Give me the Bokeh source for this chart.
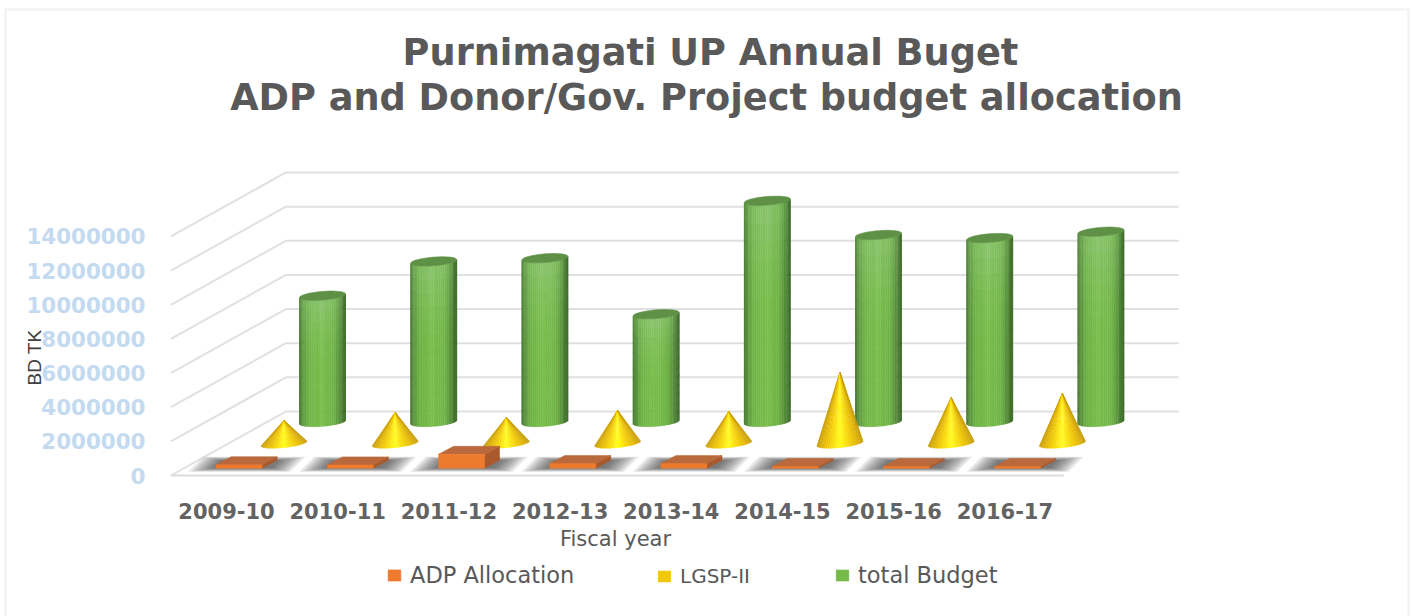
import math
from bokeh.plotting import figure
from bokeh.models import (Range1d, FixedTicker, NumeralTickFormatter, Label, Legend, LegendItem, BoxAnnotation)
from bokeh.embed import file_html
from bokeh.resources import INLINE

CATEGORIES = ["2009-10", "2010-11", "2011-12", "2012-13", "2013-14", "2014-15", "2015-16", "2016-17"]
ADP = [210000, 200000, 820000, 280000, 280000, 110000, 110000, 110000]
LGSP = [1350000, 1820000, 1520000, 1930000, 1870000, 4160000, 2690000, 2930000]
TOTAL = [7400000, 9410000, 9600000, 6320000, 12960000, 10960000, 10780000, 11150000]
Y_TICKS = [0, 2000000, 4000000, 6000000, 8000000, 10000000, 12000000, 14000000]

# projection: one category = 111.2 px, one px = 58577 value units
PX_CAT = 111.2
VAL_PX = 58577.0
CAT0_PX, ZERO_PX = 226.0, 475.0
WIDTH, HEIGHT = 1411, 616
DX, DY = 115 / PX_CAT, 64 * VAL_PX          # depth of the 3-D box
D_ADP, D_LGSP, D_TOTAL = 0.175, 0.5, 0.835   # depth slots
X_LO, X_HI = -0.5, 7.53                      # floor extent in category units

def X(px): return (px - CAT0_PX) / PX_CAT
def Y(px): return (ZERO_PX - px) * VAL_PX
def ex(px): return px / PX_CAT
def ey(px): return px * VAL_PX

def hexrgb(h): return tuple(int(h[i:i + 2], 16) for i in (1, 3, 5))
def mix(a, b, f):
    return tuple(a[k] + (b[k] - a[k]) * f for k in range(3))
def tohex(c): return "#%02x%02x%02x" % tuple(int(round(v)) for v in c)
def ramp(stops, s):
    s = max(0.0, min(1.0, s))
    for (s0, c0), (s1, c1) in zip(stops, stops[1:]):
        if s <= s1:
            return mix(hexrgb(c0), hexrgb(c1), (s - s0) / (s1 - s0))
    return hexrgb(stops[-1][1])

p = figure(width=WIDTH, height=HEIGHT, output_backend="svg", toolbar_location=None,
           x_range=Range1d(X(0), X(WIDTH)), y_range=Range1d(Y(HEIGHT), Y(0)),
           min_border=0, outline_line_color=None,
           background_fill_color="white", border_fill_color="white")
p.grid.visible = False

# axes, pinned inside the full-page frame
ax = p.xaxis[0]
ax.fixed_location = Y(490)
ax.ticker = FixedTicker(ticks=list(range(len(CATEGORIES))))
ax.major_label_overrides = {i: c for i, c in enumerate(CATEGORIES)}
ax.axis_line_color = None
ax.major_tick_line_color = None
ax.minor_tick_line_color = None
ax.major_tick_out = 0
ax.major_label_standoff = 12
ax.major_label_text_font = "DejaVu Sans"
ax.major_label_text_font_style = "bold"
ax.major_label_text_font_size = "21px"
ax.major_label_text_color = "#636363"

ay = p.yaxis[0]
ay.fixed_location = X(160)
ay.ticker = FixedTicker(ticks=Y_TICKS)
ay.formatter = NumeralTickFormatter(format="0")
ay.axis_line_color = None
ay.major_tick_line_color = None
ay.minor_tick_line_color = None
ay.major_tick_out = 0
ay.major_label_standoff = 15
ay.major_label_text_font = "DejaVu Sans"
ay.major_label_text_font_style = "bold"
ay.major_label_text_font_size = "21.4px"
ay.major_label_text_color = "#c3daf0"

# back wall / side gridlines
gx, gy = [], []
for v in Y_TICKS:
    gx.append([X_LO, X_LO + DX, X_HI + DX])
    gy.append([v, v + DY, v + DY])
p.multi_line(gx, gy, line_color="#e0e0e0", line_width=2)
p.line([X_LO, X_HI], [0, 0], line_color="#dcdcdc", line_width=2)

# cylinders
A, B, C = ex(23), ey(4.3), ey(1.8)
G_STOPS = [(0, "#79be4b"), (0.55, "#6fb345"), (0.8, "#569139"), (1, "#3c6c28")]
N, M = 32, 12
xs, ys, cols = [], [], []
topx, topy = [], []
for i, val in enumerate(TOTAL):
    cx, cy = i + D_TOTAL * DX, D_TOTAL * DY
    for n in range(N):
        t0 = math.pi + math.pi * n / N
        t1 = math.pi + math.pi * (n + 1) / N
        tm = (t0 + t1) / 2
        s = min(1.0, abs(math.cos(tm) + 0.06))
        x0, x1 = cx + A * math.cos(t0), cx + A * math.cos(t1)
        e0 = B * math.sin(t0) + C * math.cos(t0)
        e1 = B * math.sin(t1) + C * math.cos(t1)
        for m in range(M):
            f0, f1 = m / M, (m + 1) / M
            base = ramp(G_STOPS, s)
            glow = max(0, (f0 + f1) / 2 - 0.4) / 0.6
            c = mix(base, hexrgb("#8fc678"), 0.8 * glow ** 2 * (1 - s) ** 0.6)
            xs.append([x0, x1, x1, x0])
            ys.append([cy + e0 + val * f0, cy + e1 + val * f0, cy + e1 + val * f1, cy + e0 + val * f1])
            cols.append(tohex(c))
    tt = [2 * math.pi * k / 40 for k in range(40)]
    topx.append([cx + A * math.cos(t) for t in tt])
    topy.append([cy + val + B * math.sin(t) + C * math.cos(t) for t in tt])
r_total = p.patches(xs, ys, fill_color=cols, line_color=cols, line_width=0.4)
p.patches(topx, topy, fill_color="#5e9045", line_color="#5e9045", line_width=0.6)

# cones
A2, B2, C2 = ex(23), ey(4.2), ey(2.4)
Y_STOPS = [(0, "#ffff22"), (0.3, "#fbdd0c"), (0.72, "#e6b800"), (1, "#c49a00")]
N2 = 32
xs, ys, cols = [], [], []
for i, val in enumerate(LGSP):
    cx, cy = i + D_LGSP * DX, D_LGSP * DY
    for n in range(N2):
        t0 = math.pi + math.pi * n / N2
        t1 = math.pi + math.pi * (n + 1) / N2
        s = abs(math.cos((t0 + t1) / 2))
        c = tohex(ramp(Y_STOPS, s))
        xs.append([cx + A2 * math.cos(t0), cx + A2 * math.cos(t1), cx])
        ys.append([cy + B2 * math.sin(t0) + C2 * math.cos(t0),
                   cy + B2 * math.sin(t1) + C2 * math.cos(t1), cy + val])
        cols.append(c)
r_lgsp = p.patches(xs, ys, fill_color=cols, line_color=cols, line_width=0.3)

# soft shadow under the flat boxes
for hw, hd in [(51, 7.5), (48, 7), (45, 6.5), (42, 6), (39, 5.5), (36, 5), (33, 4.5), (30, 4)]:
    sx, sy = [], []
    for i in range(len(ADP)):
        cx, cy = i + D_ADP * DX, D_ADP * DY
        sk = ex(hd)
        sx.append([cx - ex(hw) - sk, cx + ex(hw) - sk, cx + ex(hw) + sk, cx - ex(hw) + sk])
        sy.append([cy - ey(hd), cy - ey(hd), cy + ey(hd), cy + ey(hd)])
    p.patches(sx, sy, fill_color="#202020", fill_alpha=0.10, line_color=None)

# boxes
W, BX, BY = ex(23), ex(7.5), ey(4)
cxs = [i + D_ADP * DX for i in range(len(ADP))]
cy = D_ADP * DY
p.patches([[c + W - BX, c + W + BX, c + W + BX, c + W - BX] for c in cxs],
          [[cy - BY, cy + BY, cy + BY + v, cy - BY + v] for v in ADP],
          fill_color="#a9592c", line_color="#a9592c", line_width=0.5)
p.patches([[c - W - BX, c + W - BX, c + W + BX, c - W + BX] for c in cxs],
          [[cy - BY + v, cy - BY + v, cy + BY + v, cy + BY + v] for v in ADP],
          fill_color="#b9693b", line_color="#b9693b", line_width=0.5)
r_adp = p.quad(left=[c - W - BX for c in cxs], right=[c + W - BX for c in cxs],
               bottom=[cy - BY] * len(ADP), top=[cy - BY + v for v in ADP],
               fill_color="#ee7a2d", line_color="#ee7a2d", line_width=0.5)

# texts
TXT = "#595959"
for s, px, py in [("Purnimagati UP Annual Buget", 710, 52),
                  ("ADP and Donor/Gov. Project budget allocation", 706, 97)]:
    p.add_layout(Label(x=X(px), y=Y(py), text=s, text_align="center", text_baseline="middle",
                       text_font="DejaVu Sans", text_font_style="bold",
                       text_font_size="36.7px", text_color=TXT))
p.add_layout(Label(x=X(615), y=Y(538), text="Fiscal year", text_align="center", text_baseline="middle",
                   text_font="DejaVu Sans", text_font_size="21px", text_color=TXT))
p.add_layout(Label(x=X(34), y=Y(357), text="BD TK", text_align="center", text_baseline="middle",
                   angle=math.pi / 2, text_font="Liberation Sans",
                   text_font_size="19px", text_color="#404040"))

# legend
for name, r, idx, gxp, fs in [("ADP Allocation", r_adp, 0, 386, "22.5px"),
                              ("LGSP-II", r_lgsp, 10, 656, "20px"),
                              ("total Budget", r_total, 194, 834, "22.5px")]:
    leg = Legend(items=[LegendItem(label=name, renderers=[r], index=idx)],
                 location=(gxp, HEIGHT - 588), orientation="horizontal",
                 background_fill_alpha=0, border_line_color=None, margin=0, padding=0,
                 glyph_width=16, glyph_height=14, label_standoff=8,
                 label_text_font="DejaVu Sans", label_text_font_size=fs,
                 label_text_color=TXT)
    p.add_layout(leg, "center")

# card outline
p.add_layout(BoxAnnotation(left=5, right=1408, top=Y(9), bottom=Y(640),
                           left_units="screen", right_units="screen",
                           fill_alpha=0, line_color="#d6d6d6", line_width=2.5))

open("out.html", "w").write(file_html(p, INLINE))
